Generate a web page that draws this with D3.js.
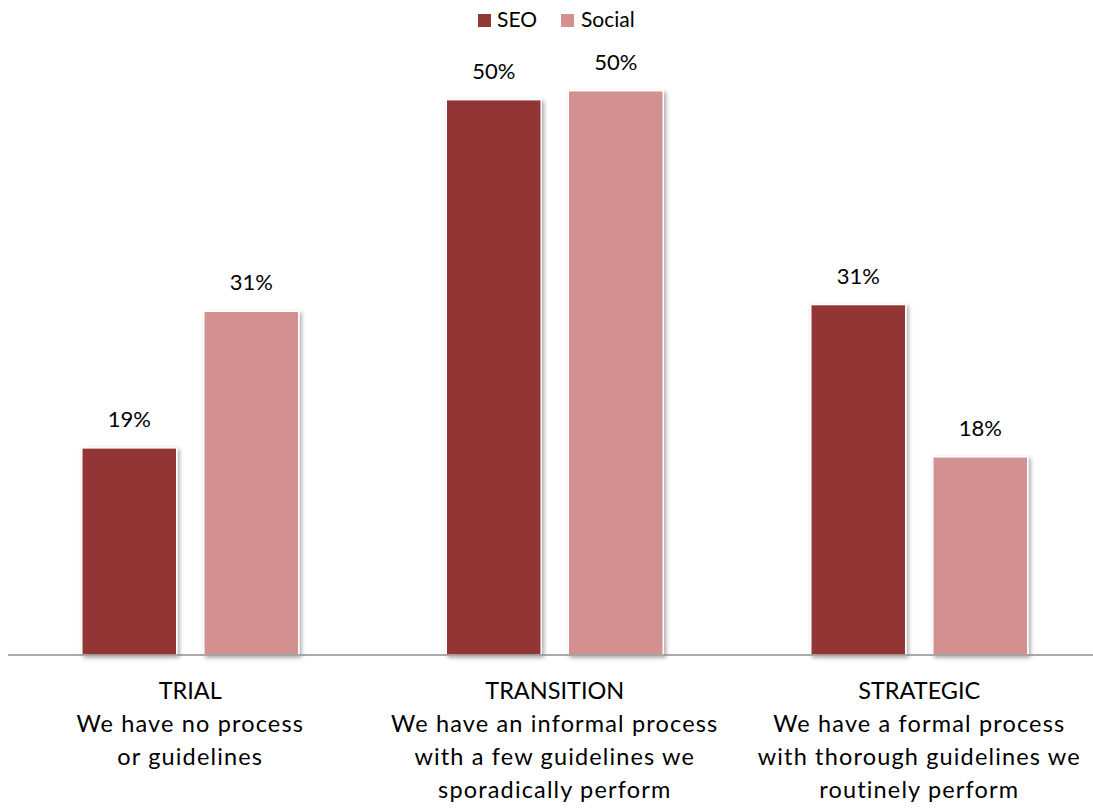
<!DOCTYPE html>
<html>
<head>
<meta charset="utf-8">
<script src="https://cdn.jsdelivr.net/npm/d3@7"></script>
<style>
  html, body { margin: 0; padding: 0; background: #fff; }
  svg { display: block; }
  text { font-family: Lato, "Open Sans", sans-serif; fill: #000; }
</style>
</head>
<body>
<svg id="chart" width="1093" height="809"></svg>
<script>
// ---- data ----
const categories = ["TRIAL", "TRANSITION", "STRATEGIC"];
const categoryDescriptions = [
  ["We have no process", "or guidelines"],
  ["We have an informal process", "with a few guidelines we", "sporadically perform"],
  ["We have a formal process", "with thorough guidelines we", "routinely perform"]
];
const seriesNames = ["SEO", "Social"];
const seoValues = [18.5, 49.6, 31.3];
const socialValues = [30.7, 50.4, 17.7];
const colors = ["#943634", "#D29190"];

// ---- layout ----
const svg = d3.select("#chart");
const baseY = 655;

const x0 = d3.scaleBand().domain(categories).range([8, 1101.5]).padding(0);
const groupInset = 73.75;
const x1 = d3.scaleBand().domain(seriesNames)
  .range([groupInset, x0.bandwidth() - groupInset])
  .paddingInner(27 / 122).paddingOuter(0);
const y = d3.scaleLinear().domain([0, 58.5]).range([baseY, 0]);

// shadow filter
const defs = svg.append("defs");
const f = defs.append("filter").attr("id", "shadow")
  .attr("x", "-10%").attr("y", "-10%").attr("width", "130%").attr("height", "130%");
f.append("feGaussianBlur").attr("in", "SourceAlpha").attr("stdDeviation", 2).attr("result", "blur");
f.append("feOffset").attr("in", "blur").attr("dx", 2).attr("dy", 2).attr("result", "off");
f.append("feComponentTransfer").attr("in", "off").attr("result", "sh")
  .append("feFuncA").attr("type", "linear").attr("slope", 0.35);
const fm = f.append("feMerge");
fm.append("feMergeNode").attr("in", "sh");
fm.append("feMergeNode").attr("in", "SourceGraphic");

const rows = categories.map((c, i) => ({
  cat: c,
  vals: [{ s: "SEO", v: seoValues[i] }, { s: "Social", v: socialValues[i] }]
}));

const groups = svg.append("g").selectAll("g").data(rows).join("g")
  .attr("transform", d => `translate(${x0(d.cat)},0)`);

groups.selectAll("rect").data(d => d.vals).join("rect")
  .attr("x", d => x1(d.s))
  .attr("y", d => y(d.v))
  .attr("width", x1.bandwidth())
  .attr("height", d => baseY - y(d.v))
  .attr("fill", (d, i) => colors[i])
  .attr("stroke", "#fff")
  .attr("stroke-width", 1.5)
  .attr("filter", "url(#shadow)");

groups.selectAll("text.val").data(d => d.vals).join("text")
  .attr("class", "val")
  .attr("x", d => x1(d.s) + x1.bandwidth() / 2)
  .attr("y", d => y(d.v) - 21)
  .attr("text-anchor", "middle")
  .attr("font-size", 22)
  .text(d => Math.round(d.v) + "%");

// baseline axis
const xAxis = d3.axisBottom(x0).tickSize(0).tickFormat("");
const ax = svg.append("g").attr("transform", `translate(0,${baseY})`).call(xAxis);
ax.select(".domain").attr("stroke", "#8c8c8c").attr("stroke-width", 1.5)
  .attr("d", `M8,0H1093`);

// category labels
const labelG = svg.append("g");
categories.forEach((c, i) => {
  const cx = x0(c) + x0.bandwidth() / 2;
  const lines = [c].concat(categoryDescriptions[i]);
  const t = labelG.append("text").attr("text-anchor", "middle").attr("font-size", 23.5);
  lines.forEach((ln, j) => {
    t.append("tspan").attr("x", cx).attr("y", 699 + j * 33)
      .attr("letter-spacing", j === 0 ? 0 : 1.15).text(ln);
  });
});

// legend
const leg = svg.append("g");
const legItems = [{ name: "SEO", sx: 478, tx: 497 }, { name: "Social", sx: 561, tx: 581 }];
legItems.forEach((it, i) => {
  leg.append("rect").attr("x", it.sx).attr("y", 14).attr("width", 13).attr("height", 13).attr("fill", colors[i]);
  leg.append("text").attr("x", it.tx).attr("y", 27).attr("font-size", 21).text(it.name);
});
</script>
</body>
</html>
